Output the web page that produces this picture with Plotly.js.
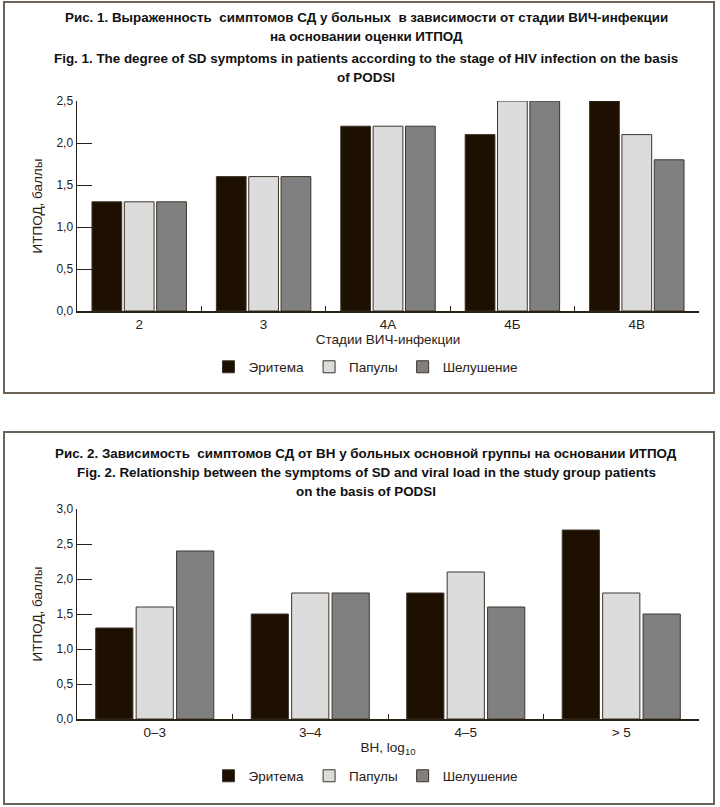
<!DOCTYPE html>
<html>
<head>
<meta charset="utf-8">
<script src="https://cdn.plot.ly/plotly-3.0.1.min.js"></script>
<style>html,body{margin:0;padding:0;background:#fff;}#chart{width:720px;height:807px;}</style>
</head>
<body>
<div id="chart"></div>
<script>
// Chart 1 data
const stages = ["2", "3", "4А", "4Б", "4В"];
const erythema1 = [1.3, 1.6, 2.2, 2.1, 2.5];
const papules1  = [1.3, 1.6, 2.2, 2.5, 2.1];
const scaling1  = [1.3, 1.6, 2.2, 2.5, 1.8];

// Chart 2 data
const loads = ["0–3", "3–4", "4–5", "> 5"];
const erythema2 = [1.3, 1.5, 1.8, 2.7];
const papules2  = [1.6, 1.8, 2.1, 1.8];
const scaling2  = [2.4, 1.8, 1.6, 1.5];

const seriesNames = ["Эритема", "Папулы", "Шелушение"];
const colors = ["#1e1000", "#dcdcdc", "#808080"];

const FONT = "Liberation Sans, Arial, sans-serif";
const TFONT = "Liberation Sans, Arial, sans-serif";
const INK = "#2a2015";
const lineStyle = {color: "#3d342a", width: 1};

function bar(x, y, i, xa, ya, lg) {
  return {type: "bar", x: x, y: y, name: seriesNames[i], xaxis: xa, yaxis: ya,
    legend: lg, marker: {color: colors[i], line: lineStyle}, hoverinfo: "x+y+name"};
}

const data = [
  bar(stages, erythema1, 0, "x", "y", "legend"),
  bar(stages, papules1, 1, "x", "y", "legend"),
  bar(stages, scaling1, 2, "x", "y", "legend"),
  bar(loads, erythema2, 0, "x2", "y2", "legend2"),
  bar(loads, papules2, 1, "x2", "y2", "legend2"),
  bar(loads, scaling2, 2, "x2", "y2", "legend2")
];

const W = 720, H = 807;
const px = v => v / W;
const py = v => 1 - v / H;

function xAxis(anchor, title, dom) {
  return {anchor: anchor, domain: dom, type: "category",
    showline: true, linecolor: INK, linewidth: 1.5,
    ticks: "inside", tickson: "boundaries", ticklen: 5, tickcolor: INK, tickwidth: 1,
    tickfont: {family: FONT, size: 13.5, color: INK},
    title: {text: title, font: {family: FONT, size: 13.5, color: INK}, standoff: 4},
    showgrid: false, zeroline: false, automargin: false, fixedrange: true};
}
function yAxis(anchor, dom, range, dtick) {
  return {anchor: anchor, domain: dom, range: range, dtick: dtick, tickformat: ".1f",
    showline: true, linecolor: INK, linewidth: 1.5,
    ticks: "inside", ticklen: 15, tickcolor: INK, tickwidth: 1,
    tickfont: {family: FONT, size: 12, color: INK},
    title: {text: "ИТПОД, баллы", font: {family: FONT, size: 13.5, color: INK}, standoff: 10},
    showgrid: false, zeroline: false, automargin: false, fixedrange: true};
}

const xdom = [px(77), px(699)];

function titleLine(text, y) {
  return {xref: "paper", yref: "paper", x: px(366), y: py(y), xanchor: "center", yanchor: "middle",
    text: "<b>" + text + "</b>", showarrow: false, font: {family: TFONT, size: 13.4, color: "#111"}};
}

const layout = {
  width: W, height: H,
  margin: {l: 0, r: 0, t: 0, b: 0},
  paper_bgcolor: "#fff", plot_bgcolor: "#fff",
  separators: ", ",
  barmode: "group", bargap: 0.22, bargroupgap: 0.08,
  xaxis: xAxis("y", "Стадии ВИЧ-инфекции", xdom),
  yaxis: yAxis("x", [py(311), py(101)], [0, 2.5], 0.5),
  xaxis2: xAxis("y2", "ВН, log<sub>10</sub>", xdom),
  yaxis2: yAxis("x2", [py(719), py(509)], [0, 3], 0.5),
  legend: {orientation: "h", x: px(366), y: py(367), xanchor: "center", yanchor: "middle",
    font: {family: FONT, size: 13.5, color: INK}, bgcolor: "rgba(0,0,0,0)"},
  legend2: {orientation: "h", x: px(366), y: py(776), xanchor: "center", yanchor: "middle",
    font: {family: FONT, size: 13.5, color: INK}, bgcolor: "rgba(0,0,0,0)"},
  shapes: [
    {type: "rect", xref: "paper", yref: "paper", x0: px(4), x1: px(714), y0: py(393), y1: py(2),
      line: {color: "#6b6356", width: 2}, fillcolor: "rgba(0,0,0,0)", layer: "below"},
    {type: "rect", xref: "paper", yref: "paper", x0: px(4), x1: px(714), y0: py(804), y1: py(432),
      line: {color: "#6b6356", width: 2}, fillcolor: "rgba(0,0,0,0)", layer: "below"}
  ],
  annotations: [
    titleLine("Рис. 1. Выраженность  симптомов СД у больных  в зависимости от стадии ВИЧ-инфекции", 17),
    titleLine("на основании оценки ИТПОД", 37),
    titleLine("Fig. 1. The degree of SD symptoms in patients according to the stage of HIV infection on the basis", 59),
    titleLine("of PODSI", 78),
    titleLine("Рис. 2. Зависимость  симптомов СД от ВН у больных основной группы на основании ИТПОД", 454),
    titleLine("Fig. 2. Relationship between the symptoms of SD and viral load in the study group patients", 473),
    titleLine("on the basis of PODSI", 492)
  ]
};

Plotly.newPlot("chart", data, layout, {displayModeBar: false, staticPlot: true});
</script>
</body>
</html>
